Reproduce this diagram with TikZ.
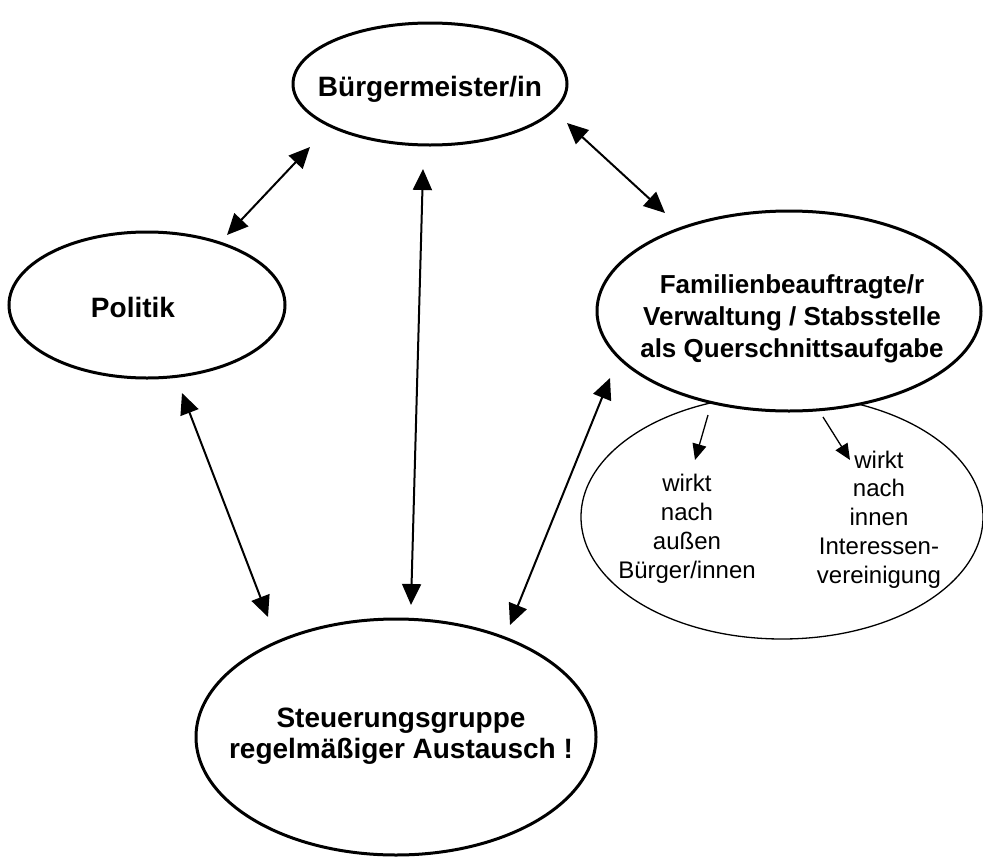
\documentclass[tikz,border=0pt]{standalone}
\usepackage{fontspec}
\setmainfont{Liberation Sans}
\usetikzlibrary{shapes.geometric,arrows.meta}
\begin{document}
\begin{tikzpicture}[x=1pt,y=-1pt,
  bigell/.style={ellipse, draw, line width=3pt, fill=white, inner sep=0pt},
  thinell/.style={ellipse, draw, line width=1.3pt, fill=white, inner sep=0pt},
  lbl/.style={font=\fontsize{28}{31}\selectfont\bfseries, align=center, anchor=base, inner sep=0pt},
  falbl/.style={font=\fontsize{26}{32}\selectfont\bfseries, align=center, anchor=base, inner sep=0pt},
  smalllbl/.style={font=\fontsize{24}{28.7}\selectfont, align=center, anchor=base, inner sep=0pt},
  arr/.style={line width=2pt, {Triangle[length=21pt,width=19pt]}-{Triangle[length=21pt,width=19pt]}},
  sarr/.style={line width=1.3pt, -{Triangle[length=16pt,width=14pt]}}]
\useasboundingbox (0,0) rectangle (983,857);
\fill[white] (0,0) rectangle (983,857);
% shapes
\node[thinell, minimum width=402pt, minimum height=244pt] (wk) at (782,517) {};
\node[bigell, minimum width=274pt, minimum height=122pt] (bm) at (430,84) {};
\node[bigell, minimum width=276pt, minimum height=146pt] (po) at (147,305) {};
\node[bigell, minimum width=384pt, minimum height=200pt] (fa) at (789,311) {};
\node[bigell, minimum width=400pt, minimum height=236pt] (st) at (396,737) {};
% labels (anchor base = baseline of the last line)
\node[lbl] (bmt) at (430,96) {Bürgermeister/in};
\node[lbl] (pot) at (133,317) {Politik};
\node[falbl] (fat) at (792,357) {Familienbeauftragte/r\\Verwaltung / Stabsstelle\\als Querschnittsaufgabe};
\node[lbl] (stt) at (401,758) {Steuerungsgruppe\\regelmäßiger Austausch !};
\node[smalllbl] (wka) at (687,578) {wirkt\\nach\\außen\\Bürger/innen};
\node[smalllbl] (wki) at (879,583) {wirkt\\nach\\innen\\Interessen-\\vereinigung};
% connector ends
\coordinate (a1s) at (227,235); \coordinate (a1e) at (310,147);
\coordinate (a2s) at (567,123); \coordinate (a2e) at (665,213);
\coordinate (a3s) at (423,169); \coordinate (a3e) at (411,605);
\coordinate (a4s) at (182,393); \coordinate (a4e) at (268,617);
\coordinate (a5s) at (610,378); \coordinate (a5e) at (510,625);
\coordinate (s1s) at (708,415); \coordinate (s1e) at (695,460);
\coordinate (s2s) at (823,417); \coordinate (s2e) at (850,460);
\draw[arr] (a1s) -- (a1e);
\draw[arr] (a2s) -- (a2e);
\draw[arr] (a3s) -- (a3e);
\draw[arr] (a4s) -- (a4e);
\draw[arr] (a5s) -- (a5e);
\draw[sarr] (s1s) -- (s1e);
\draw[sarr] (s2s) -- (s2e);
\end{tikzpicture}
\end{document}
